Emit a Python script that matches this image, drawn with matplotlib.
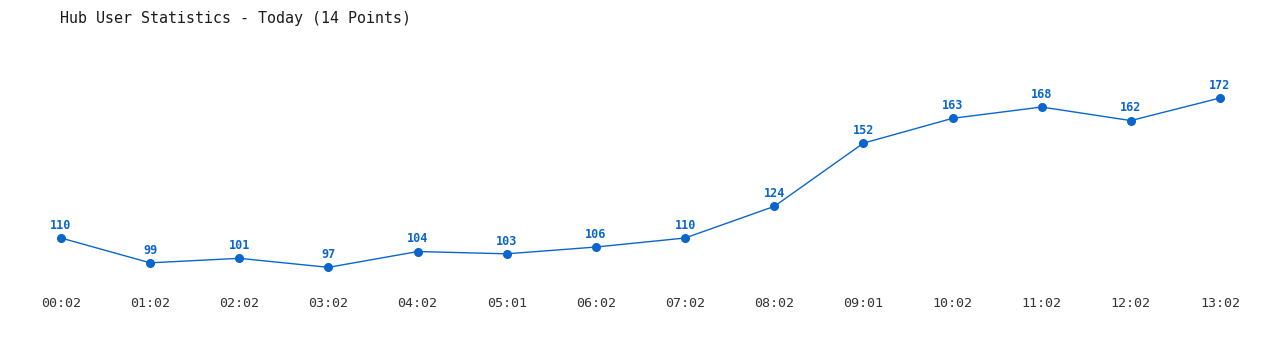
import matplotlib
matplotlib.use("Agg")
import matplotlib.pyplot as plt

times = ["00:02", "01:02", "02:02", "03:02", "04:02", "05:01", "06:02",
         "07:02", "08:02", "09:01", "10:02", "11:02", "12:02", "13:02"]
users = [110, 99, 101, 97, 104, 103, 106, 110, 124, 152, 163, 168, 162, 172]

W, H = 1280, 350
fig = plt.figure(figsize=(W / 100, H / 100), dpi=100)
left, right = 61, 1220
top, bottom = 60, 290
ax = fig.add_axes([left / W, 1 - bottom / H, (right - left) / W, (bottom - top) / H])

blue = "#0a66cc"
x = list(range(len(times)))
ax.plot(x, users, color=blue, lw=1.0, marker="o", ms=5.5, clip_on=False, zorder=3)
for xi, v in zip(x, users):
    ax.annotate(str(v), (xi, v), xytext=(0, 4.5), textcoords="offset points",
                ha="center", va="bottom", fontsize=8.5, fontweight="bold",
                color=blue, family="DejaVu Sans Mono")

ax.set_xlim(0, 13)
ax.set_ylim(86.97, 188.83)
ax.set_xticks(x)
ax.set_xticklabels(times, family="DejaVu Sans Mono", fontsize=9.6, color="#333333")
ax.tick_params(axis="x", length=0, pad=5)
ax.set_yticks([])
for s in ax.spines.values():
    s.set_visible(False)

fig.text(60 / W, 1 - 18 / H, "Hub User Statistics - Today (14 Points)",
         family="DejaVu Sans Mono", fontsize=10.8, color="#1a1a1a",
         ha="left", va="center")

fig.savefig("out.png", dpi=100, facecolor="white")
